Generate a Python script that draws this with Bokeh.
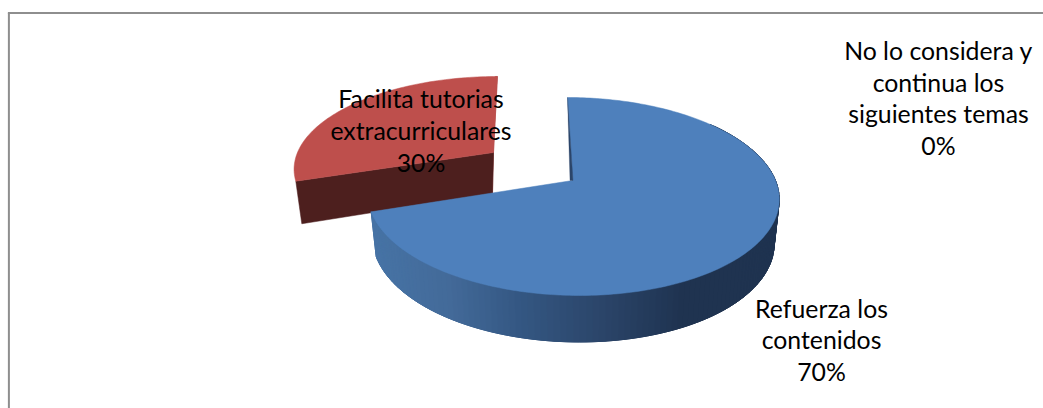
import numpy as np
from bokeh.plotting import figure
from bokeh.models import Range1d, ColumnDataSource
from bokeh.core.properties import value
from bokeh.embed import file_html
from bokeh.resources import INLINE

# Data
categories = ["Refuerza los contenidos", "Facilita tutorias extracurriculares",
              "No lo considera y continua los siguientes temas"]
shares = [70, 30, 0]
label_lines = [["Refuerza los", "contenidos"],
               ["Facilita tutorias", "extracurriculares"],
               ["No lo considera y", "continua los", "siguientes temas"]]

# Layout and style
W, H = 1043, 408
label_pos = [(821, 339.5), (420.5, 130), (938, 97.5)]
FONT = "Lato"
FONT_SIZE = "24.8px"
BLUE, RED = "#4E80BC", "#BE4F4C"
RED_WALL, RED_EDGE = "#4D1F1E", "#9C3F3D"
BORDER = "#8E8E8E"
side_x = [372, 450, 520, 600, 650, 680, 790]
side_rgb = [(0x47, 0x74, 0xA6), (0x43, 0x6A, 0x99), (0x34, 0x57, 0x83),
            (0x2B, 0x45, 0x69), (0x23, 0x3A, 0x5A), (0x1F, 0x33, 0x50), (0x1F, 0x33, 0x50)]

P = 0.1616


def project(theta, cx, cy, a, b, e):
    """Pie-plane angle (clockwise from 12 o'clock) to page position, with perspective."""
    s = 1.0 / (1 + P * np.cos(theta))
    return cx + (a * np.sin(theta) + e * np.cos(theta)) * s, cy - b * np.cos(theta) * s


def hexcol(x):
    c = [int(round(np.interp(x, side_x, [r[i] for r in side_rgb]))) for i in range(3)]
    return "#%02X%02X%02X" % tuple(c)


total = sum(shares)
end_blue = 2 * np.pi * shares[0] / total
end_red = end_blue + 2 * np.pi * shares[1] / total

p = figure(width=W, height=H, output_backend="svg", toolbar_location=None,
           x_range=Range1d(0, W), y_range=Range1d(H, 0), min_border=0,
           outline_line_color=None, background_fill_color="white", border_fill_color="white")
p.axis.visible = False
p.grid.visible = False

# Chart frame
p.line([8.4, 8.4], [H, 12.4], line_color=BORDER, line_width=2)
p.line([7.4, W], [12.4, 12.4], line_color=BORDER, line_width=2)

# Exploded red slice
RC = dict(cx=493, cy=152, a=196, b=88.3, e=4.6)
RD = dict(cx=494, cy=194, a=191, b=90, e=4.6)
t = np.linspace(end_blue, end_red, 80)
rx, ry = project(t, **RC)
cxr, cyr = RC["cx"], RC["cy"]
wx0, wy0 = project(end_blue, **RC)
dx0, dy0 = project(end_blue, **RD)
# thin wall at 12 o'clock
p.patch([rx[-1], rx[-1] - 2, cxr - 1.5, cxr - 1, cxr], [ry[-1], ry[-1], cyr + 41, cyr + 41, cyr],
        fill_color=RED_EDGE, line_color=RED_EDGE, line_width=0.5)
# cut face of the slice
p.patch([cxr, wx0, dx0, cxr - 1, cxr], [cyr, wy0, dy0, cyr + 41, cyr],
        fill_color=RED_WALL, line_color=RED_WALL, line_width=0.5)
p.patch(np.r_[cxr, rx], np.r_[cyr, ry], fill_color=RED, line_color=RED, line_width=0.5)

# Blue slice: side strips then top face
BT = dict(cx=572, cy=180, a=203, b=96.4, e=-5.8)
BB = dict(cx=572, cy=224, a=198, b=98.5, e=-5.8)
t = np.linspace(np.radians(50), end_blue, 130)
tx, ty = project(t, **BT)
bx, by = project(t, **BB)
xs, ys, cols = [], [], []
for i in range(len(t) - 1):
    j = min(i + 2, len(t) - 1)  # strips overlap so that no seams show
    xs.append([tx[i], tx[j], bx[j], bx[i]])
    ys.append([ty[i], ty[j], by[j], by[i]])
    cols.append(hexcol((bx[i] + bx[i + 1]) / 2))
p.patches(xs, ys, fill_color=cols, line_color=cols, line_width=1)

t = np.linspace(0, end_blue, 240)
tx, ty = project(t, **BT)
p.patch(np.r_[BT["cx"], tx], np.r_[BT["cy"], ty], fill_color=BLUE, line_color=BLUE, line_width=0.5)
# thin wall visible along the 12 o'clock edge
p.patch([tx[0], BT["cx"] - 2.5, BT["cx"] + 0.5], [ty[0], BT["cy"], BT["cy"]],
        fill_color="#2B4569", line_color="#2B4569", line_width=0.3)

# Labels
texts = ["\n".join(lines + ["%d%%" % s]) for lines, s in zip(label_lines, shares)]
src = ColumnDataSource(dict(x=[q[0] for q in label_pos], y=[q[1] for q in label_pos], text=texts, cat=categories))
p.text("x", "y", text="text", source=src, text_font=value(FONT), text_font_size=value(FONT_SIZE),
       text_color="#000000", text_align="center", text_baseline="middle", text_line_height=1.1)

open("out.html", "w").write(file_html(p, INLINE))
